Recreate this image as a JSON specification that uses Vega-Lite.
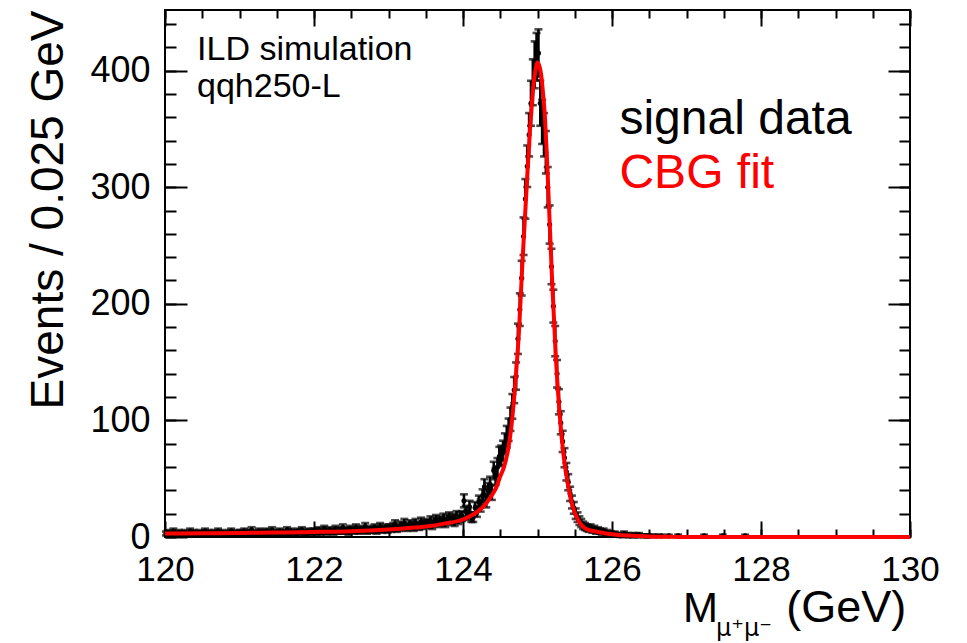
{
"$schema":"https://vega.github.io/schema/vega-lite/v6.json",
"width":745,"height":527,"autosize":"none",
"padding":{"left":165,"top":10,"right":57,"bottom":106},
"background":"white",
"config":{"view":{"stroke":"black","strokeWidth":2},
"axis":{"domain":false,"grid":false,"tickColor":"black","tickWidth":2,"labelColor":"black","labelFont":"Liberation Sans","labelFontSize":35,"labelFlush":false,"titleFont":"Liberation Sans","titleFontWeight":"normal","titleColor":"black","titleFontSize":46}},
"datasets":{
"one":[{}],
"hist":[
{"m":120.0125,"n":3,"e":1.7},{"m":120.0375,"n":4,"e":2},{"m":120.0625,"n":2,"e":1.4},{"m":120.0875,"n":3,"e":1.7},{"m":120.1125,"n":5,"e":2.2},{"m":120.1375,"n":3,"e":1.7},{"m":120.1625,"n":2,"e":1.4},{"m":120.1875,"n":4,"e":2},{"m":120.2125,"n":3,"e":1.7},{"m":120.2375,"n":3,"e":1.7},
{"m":120.2625,"n":4,"e":2},{"m":120.2875,"n":2,"e":1.4},{"m":120.3125,"n":3,"e":1.7},{"m":120.3375,"n":5,"e":2.2},{"m":120.3625,"n":3,"e":1.7},{"m":120.3875,"n":4,"e":2},{"m":120.4125,"n":2,"e":1.4},{"m":120.4375,"n":3,"e":1.7},{"m":120.4625,"n":4,"e":2},{"m":120.4875,"n":3,"e":1.7},
{"m":120.5125,"n":3,"e":1.7},{"m":120.5375,"n":5,"e":2.2},{"m":120.5625,"n":2,"e":1.4},{"m":120.5875,"n":4,"e":2},{"m":120.6125,"n":3,"e":1.7},{"m":120.6375,"n":3,"e":1.7},{"m":120.6625,"n":4,"e":2},{"m":120.6875,"n":2,"e":1.4},{"m":120.7125,"n":5,"e":2.2},{"m":120.7375,"n":3,"e":1.7},
{"m":120.7625,"n":4,"e":2},{"m":120.7875,"n":3,"e":1.7},{"m":120.8125,"n":3,"e":1.7},{"m":120.8375,"n":2,"e":1.4},{"m":120.8625,"n":4,"e":2},{"m":120.8875,"n":5,"e":2.2},{"m":120.9125,"n":3,"e":1.7},{"m":120.9375,"n":3,"e":1.7},{"m":120.9625,"n":4,"e":2},{"m":120.9875,"n":2,"e":1.4},
{"m":121.0125,"n":4,"e":2},{"m":121.0375,"n":3,"e":1.7},{"m":121.0625,"n":5,"e":2.2},{"m":121.0875,"n":4,"e":2},{"m":121.1125,"n":3,"e":1.7},{"m":121.1375,"n":4,"e":2},{"m":121.1625,"n":6,"e":2.4},{"m":121.1875,"n":3,"e":1.7},{"m":121.2125,"n":4,"e":2},{"m":121.2375,"n":2,"e":1.4},
{"m":121.2625,"n":5,"e":2.2},{"m":121.2875,"n":4,"e":2},{"m":121.3125,"n":3,"e":1.7},{"m":121.3375,"n":4,"e":2},{"m":121.3625,"n":5,"e":2.2},{"m":121.3875,"n":3,"e":1.7},{"m":121.4125,"n":4,"e":2},{"m":121.4375,"n":6,"e":2.4},{"m":121.4625,"n":4,"e":2},{"m":121.4875,"n":3,"e":1.7},
{"m":121.5125,"n":4,"e":2},{"m":121.5375,"n":5,"e":2.2},{"m":121.5625,"n":3,"e":1.7},{"m":121.5875,"n":4,"e":2},{"m":121.6125,"n":4,"e":2},{"m":121.6375,"n":6,"e":2.4},{"m":121.6625,"n":3,"e":1.7},{"m":121.6875,"n":5,"e":2.2},{"m":121.7125,"n":4,"e":2},{"m":121.7375,"n":4,"e":2},
{"m":121.7625,"n":3,"e":1.7},{"m":121.7875,"n":5,"e":2.2},{"m":121.8125,"n":4,"e":2},{"m":121.8375,"n":6,"e":2.4},{"m":121.8625,"n":4,"e":2},{"m":121.8875,"n":3,"e":1.7},{"m":121.9125,"n":5,"e":2.2},{"m":121.9375,"n":4,"e":2},{"m":121.9625,"n":4,"e":2},{"m":121.9875,"n":5,"e":2.2},
{"m":122.0125,"n":5,"e":2.2},{"m":122.0375,"n":4,"e":2},{"m":122.0625,"n":6,"e":2.4},{"m":122.0875,"n":4,"e":2},{"m":122.1125,"n":5,"e":2.2},{"m":122.1375,"n":7,"e":2.6},{"m":122.1625,"n":4,"e":2},{"m":122.1875,"n":5,"e":2.2},{"m":122.2125,"n":6,"e":2.4},{"m":122.2375,"n":5,"e":2.2},
{"m":122.2625,"n":4,"e":2},{"m":122.2875,"n":7,"e":2.6},{"m":122.3125,"n":5,"e":2.2},{"m":122.3375,"n":6,"e":2.4},{"m":122.3625,"n":5,"e":2.2},{"m":122.3875,"n":8,"e":2.8},{"m":122.4125,"n":5,"e":2.2},{"m":122.4375,"n":6,"e":2.4},{"m":122.4625,"n":4,"e":2},{"m":122.4875,"n":7,"e":2.6},
{"m":122.5125,"n":6,"e":2.4},{"m":122.5375,"n":5,"e":2.2},{"m":122.5625,"n":8,"e":2.8},{"m":122.5875,"n":6,"e":2.4},{"m":122.6125,"n":5,"e":2.2},{"m":122.6375,"n":7,"e":2.6},{"m":122.6625,"n":6,"e":2.4},{"m":122.6875,"n":9,"e":3},{"m":122.7125,"n":5,"e":2.2},{"m":122.7375,"n":6,"e":2.4},
{"m":122.7625,"n":7,"e":2.6},{"m":122.7875,"n":6,"e":2.4},{"m":122.8125,"n":8,"e":2.8},{"m":122.8375,"n":5,"e":2.2},{"m":122.8625,"n":7,"e":2.6},{"m":122.8875,"n":9,"e":3},{"m":122.9125,"n":6,"e":2.4},{"m":122.9375,"n":7,"e":2.6},{"m":122.9625,"n":8,"e":2.8},{"m":122.9875,"n":6,"e":2.4},
{"m":123.0125,"n":8,"e":2.8},{"m":123.0375,"n":7,"e":2.6},{"m":123.0625,"n":9,"e":3},{"m":123.0875,"n":11,"e":3.3},{"m":123.1125,"n":7,"e":2.6},{"m":123.1375,"n":8,"e":2.8},{"m":123.1625,"n":10,"e":3.2},{"m":123.1875,"n":9,"e":3},{"m":123.2125,"n":12,"e":3.5},{"m":123.2375,"n":8,"e":2.8},
{"m":123.2625,"n":9,"e":3},{"m":123.2875,"n":11,"e":3.3},{"m":123.3125,"n":10,"e":3.2},{"m":123.3375,"n":8,"e":2.8},{"m":123.3625,"n":12,"e":3.5},{"m":123.3875,"n":10,"e":3.2},{"m":123.4125,"n":9,"e":3},{"m":123.4375,"n":13,"e":3.6},{"m":123.4625,"n":10,"e":3.2},{"m":123.4875,"n":11,"e":3.3},
{"m":123.5125,"n":12,"e":3.5},{"m":123.5375,"n":11,"e":3.3},{"m":123.5625,"n":14,"e":3.7},{"m":123.5875,"n":10,"e":3.2},{"m":123.6125,"n":13,"e":3.6},{"m":123.6375,"n":15,"e":3.9},{"m":123.6625,"n":12,"e":3.5},{"m":123.6875,"n":14,"e":3.7},{"m":123.7125,"n":13,"e":3.6},{"m":123.7375,"n":16,"e":4},
{"m":123.7625,"n":12,"e":3.5},{"m":123.7875,"n":15,"e":3.9},{"m":123.8125,"n":17,"e":4.1},{"m":123.8375,"n":14,"e":3.7},{"m":123.8625,"n":16,"e":4},{"m":123.8875,"n":13,"e":3.6},{"m":123.9125,"n":18,"e":4.2},{"m":123.9375,"n":15,"e":3.9},{"m":123.9625,"n":17,"e":4.1},{"m":123.9875,"n":18,"e":4.2},
{"m":124.0125,"n":31,"e":5.6},{"m":124.0375,"n":22,"e":4.7},{"m":124.0625,"n":19,"e":4.4},{"m":124.0875,"n":26,"e":5.1},{"m":124.1125,"n":17,"e":4.1},{"m":124.1375,"n":17,"e":4.1},{"m":124.1625,"n":25,"e":5},{"m":124.1875,"n":22,"e":4.7},{"m":124.2125,"n":30,"e":5.5},{"m":124.2375,"n":27,"e":5.2},
{"m":124.2625,"n":35,"e":5.9},{"m":124.2875,"n":43,"e":6.6},{"m":124.3125,"n":31,"e":5.6},{"m":124.3375,"n":40,"e":6.3},{"m":124.3625,"n":45,"e":6.7},{"m":124.3875,"n":38,"e":6.2},{"m":124.4125,"n":57,"e":7.5},{"m":124.4375,"n":52,"e":7.2},{"m":124.4625,"n":60,"e":7.7},{"m":124.4875,"n":69,"e":8.3},
{"m":124.5125,"n":70,"e":8.4},{"m":124.5375,"n":74,"e":8.6},{"m":124.5625,"n":80,"e":8.9},{"m":124.5875,"n":86,"e":9.3},{"m":124.6125,"n":92,"e":9.6},{"m":124.6375,"n":101,"e":10},{"m":124.6625,"n":112,"e":10.6},{"m":124.6875,"n":126,"e":11.2},{"m":124.7125,"n":138,"e":11.7},{"m":124.7375,"n":170,"e":13},
{"m":124.7625,"n":195,"e":14},{"m":124.7875,"n":222,"e":14.9},{"m":124.8125,"n":258,"e":16.1},{"m":124.8375,"n":290,"e":17},{"m":124.8625,"n":318,"e":17.8},{"m":124.8875,"n":345,"e":18.6},{"m":124.9125,"n":372,"e":19.3},{"m":124.9375,"n":390,"e":19.7},{"m":124.9625,"n":405,"e":20.1},{"m":124.9875,"n":412,"e":20.3},
{"m":125.0125,"n":415,"e":20.4},{"m":125.0375,"n":372,"e":19.3},{"m":125.0625,"n":356,"e":18.9},{"m":125.0875,"n":345,"e":18.6},{"m":125.1125,"n":330,"e":18.2},{"m":125.1375,"n":300,"e":17.3},{"m":125.1625,"n":268,"e":16.4},{"m":125.1875,"n":232,"e":15.2},{"m":125.2125,"n":198,"e":14.1},{"m":125.2375,"n":168,"e":13},
{"m":125.2625,"n":140,"e":11.8},{"m":125.2875,"n":116,"e":10.8},{"m":125.3125,"n":98,"e":9.9},{"m":125.3375,"n":82,"e":9.1},{"m":125.3625,"n":68,"e":8.2},{"m":125.3875,"n":56,"e":7.5},{"m":125.4125,"n":47,"e":6.9},{"m":125.4375,"n":37,"e":6.1},{"m":125.4625,"n":30,"e":5.5},{"m":125.4875,"n":25,"e":5},
{"m":125.5125,"n":20,"e":4.5},{"m":125.5375,"n":17,"e":4.1},{"m":125.5625,"n":14,"e":3.7},{"m":125.5875,"n":12,"e":3.5},{"m":125.6125,"n":10,"e":3.2},{"m":125.6375,"n":9,"e":3},{"m":125.6625,"n":8,"e":2.8},{"m":125.6875,"n":7,"e":2.6},{"m":125.7125,"n":8,"e":2.8},{"m":125.7375,"n":6,"e":2.4},
{"m":125.7625,"n":7,"e":2.6},{"m":125.7875,"n":5,"e":2.2},{"m":125.8125,"n":6,"e":2.4},{"m":125.8375,"n":5,"e":2.2},{"m":125.8625,"n":4,"e":2},{"m":125.8875,"n":5,"e":2.2},{"m":125.9125,"n":3,"e":1.7},{"m":125.9375,"n":4,"e":2},{"m":125.9625,"n":3,"e":1.7},{"m":125.9875,"n":3,"e":1.7},
{"m":126.0125,"n":2,"e":1.4},{"m":126.0375,"n":3,"e":1.7},{"m":126.0625,"n":2,"e":1.4},{"m":126.0875,"n":2,"e":1.4},{"m":126.1125,"n":1,"e":1},{"m":126.1375,"n":2,"e":1.4},{"m":126.1625,"n":3,"e":1.7},{"m":126.1875,"n":1,"e":1},{"m":126.2125,"n":2,"e":1.4},{"m":126.2375,"n":1,"e":1},
{"m":126.2625,"n":1,"e":1},{"m":126.2875,"n":2,"e":1.4},{"m":126.3125,"n":1,"e":1},{"m":126.3375,"n":1,"e":1},{"m":126.3625,"n":2,"e":1.4},{"m":126.3875,"n":1,"e":1},{"m":126.4375,"n":1,"e":1},{"m":126.4625,"n":1,"e":1},{"m":126.4875,"n":1,"e":1},
{"m":126.5125,"n":1,"e":1},{"m":126.5875,"n":1,"e":1},{"m":126.6625,"n":1,"e":1},{"m":126.7625,"n":1,"e":1},{"m":126.8875,"n":1,"e":1},{"m":127.2375,"n":1,"e":1},{"m":127.4875,"n":1,"e":1},{"m":127.7875,"n":1,"e":1}
],
"fit":[
{"m":120,"f":3.0},{"m":120.5,"f":3.2},{"m":121,"f":3.5},{"m":121.5,"f":3.8},{"m":122,"f":4.3},{"m":122.5,"f":5.0},{"m":122.75,"f":5.6},{"m":123,"f":6.5},{"m":123.25,"f":7.6},{"m":123.5,"f":9.0},{"m":123.75,"f":11.5},{"m":124,"f":15},{"m":124.1,"f":18},{"m":124.2,"f":22},{"m":124.3,"f":28},{"m":124.4,"f":37},{"m":124.45,"f":43},{"m":124.5,"f":52},{"m":124.55,"f":60},{"m":124.6,"f":73},{"m":124.65,"f":95},{"m":124.7,"f":130},{"m":124.75,"f":175},{"m":124.8,"f":238},{"m":124.85,"f":295},{"m":124.9,"f":350},{"m":124.925,"f":372},{"m":124.95,"f":390},{"m":124.975,"f":401},{"m":125.0,"f":407},{"m":125.025,"f":404},{"m":125.05,"f":396},{"m":125.075,"f":380},{"m":125.1,"f":360},{"m":125.125,"f":328},{"m":125.15,"f":290},{"m":125.175,"f":252},{"m":125.2,"f":215},{"m":125.25,"f":150},{"m":125.3,"f":103},{"m":125.35,"f":70},{"m":125.4,"f":48},{"m":125.45,"f":32},{"m":125.5,"f":21},{"m":125.55,"f":14},{"m":125.6,"f":9.5},{"m":125.65,"f":7},{"m":125.7,"f":5.8},{"m":125.8,"f":4.5},{"m":125.9,"f":3.2},{"m":126,"f":2.3},{"m":126.2,"f":1.2},{"m":126.4,"f":0.6},{"m":126.6,"f":0.3},{"m":126.8,"f":0.15},{"m":127,"f":0.08},{"m":127.5,"f":0.02},{"m":128,"f":0},{"m":130,"f":0}
]},
"layer":[
{"data":{"name":"hist"},
 "mark":{"type":"errorbar","ticks":{"size":8,"color":"black"},"thickness":2.6,"color":"black"},
 "encoding":{
  "x":{"field":"m","type":"quantitative","scale":{"domain":[120,130],"nice":false,"zero":false},
       "axis":{"orient":"bottom","values":[120,122,124,126,128,130],"tickSize":-16,"labelPadding":31,"title":null}},
  "y":{"field":"n","type":"quantitative","scale":{"domain":[0,452],"nice":false,"zero":false},
       "axis":{"orient":"left","values":[0,100,200,300,400],"tickSize":-22,"labelPadding":37,"labelFontSize":36,"title":"Events / 0.025 GeV","titleX":-103,"titleY":0,"titleAlign":"right","titleBaseline":"alphabetic","titleAngle":-90,"titleFontSize":46}},
  "yError":{"field":"e"}}},
{"data":{"name":"hist"},
 "mark":{"type":"point","filled":true,"size":26,"color":"black","opacity":1},
 "encoding":{
  "x":{"field":"m","type":"quantitative","scale":{"domain":[120,130],"nice":false,"zero":false},
       "axis":{"orient":"bottom","values":[120,120.5,121,121.5,122,122.5,123,123.5,124,124.5,125,125.5,126,126.5,127,127.5,128,128.5,129,129.5,130],"tickSize":-8,"labels":false,"title":null}},
  "y":{"field":"n","type":"quantitative","scale":{"domain":[0,452],"nice":false,"zero":false},
       "axis":{"orient":"left","values":[0,20,40,60,80,100,120,140,160,180,200,220,240,260,280,300,320,340,360,380,400,420,440],"tickSize":-11,"labels":false,"title":null}}}},
{"data":{"name":"fit"},
 "mark":{"type":"line","color":"#ff0000","strokeWidth":4,"interpolate":"monotone"},
 "encoding":{
  "x":{"field":"m","type":"quantitative","scale":{"domain":[120,130],"nice":false,"zero":false},
       "axis":{"orient":"top","values":[120,122,124,126,128,130],"tickSize":-16,"labels":false,"title":null}},
  "y":{"field":"f","type":"quantitative","scale":{"domain":[0,452],"nice":false,"zero":false},
       "axis":{"orient":"right","values":[0,100,200,300,400],"tickSize":-22,"labels":false,"title":null}}}},
{"data":{"name":"one"},
 "mark":{"type":"text","text":"ILD simulation","align":"left","baseline":"alphabetic","fontSize":34,"font":"Liberation Sans","color":"black"},
 "encoding":{
  "x":{"datum":120.43,"type":"quantitative","scale":{"domain":[120,130],"nice":false,"zero":false},
       "axis":{"orient":"top","values":[120,120.5,121,121.5,122,122.5,123,123.5,124,124.5,125,125.5,126,126.5,127,127.5,128,128.5,129,129.5,130],"tickSize":-8,"labels":false,"title":null}},
  "y":{"datum":409.4,"type":"quantitative","scale":{"domain":[0,452],"nice":false,"zero":false},
       "axis":{"orient":"right","values":[0,20,40,60,80,100,120,140,160,180,200,220,240,260,280,300,320,340,360,380,400,420,440],"tickSize":-11,"labels":false,"title":null}}}},
{"data":{"name":"one"},
 "mark":{"type":"text","text":"qqh250-L","align":"left","baseline":"alphabetic","fontSize":34,"font":"Liberation Sans","color":"black"},
 "encoding":{"x":{"datum":120.43,"type":"quantitative","scale":{"domain":[120,130],"nice":false,"zero":false},"axis":null},
  "y":{"datum":377.7,"type":"quantitative","scale":{"domain":[0,452],"nice":false,"zero":false},"axis":null}}},
{"data":{"name":"one"},
 "mark":{"type":"text","text":"signal data","align":"left","baseline":"alphabetic","fontSize":48,"font":"Liberation Sans","color":"black"},
 "encoding":{"x":{"datum":126.1,"type":"quantitative","scale":{"domain":[120,130],"nice":false,"zero":false},"axis":null},
  "y":{"datum":346,"type":"quantitative","scale":{"domain":[0,452],"nice":false,"zero":false},"axis":null}}},
{"data":{"name":"one"},
 "mark":{"type":"text","text":"CBG fit","align":"left","baseline":"alphabetic","fontSize":48,"font":"Liberation Sans","color":"#ff0000"},
 "encoding":{"x":{"datum":126.1,"type":"quantitative","scale":{"domain":[120,130],"nice":false,"zero":false},"axis":null},
  "y":{"datum":299.3,"type":"quantitative","scale":{"domain":[0,452],"nice":false,"zero":false},"axis":null}}},
{"data":{"name":"one"},
 "mark":{"type":"text","text":"M","align":"left","baseline":"alphabetic","fontSize":42,"font":"Liberation Sans","color":"black"},
 "encoding":{"x":{"datum":126.953,"type":"quantitative","scale":{"domain":[120,130],"nice":false,"zero":false},"axis":null},
  "y":{"datum":-72.7,"type":"quantitative","scale":{"domain":[0,452],"nice":false,"zero":false},"axis":null}}},
{"data":{"name":"one"},
 "mark":{"type":"text","text":"μ⁺μ⁻","align":"left","baseline":"alphabetic","fontSize":24,"font":"DejaVu Sans","color":"black"},
 "encoding":{"x":{"datum":127.396,"type":"quantitative","scale":{"domain":[120,130],"nice":false,"zero":false},"axis":null},
  "y":{"datum":-85,"type":"quantitative","scale":{"domain":[0,452],"nice":false,"zero":false},"axis":null}}},
{"data":{"name":"one"},
 "mark":{"type":"text","text":"(GeV)","align":"right","baseline":"alphabetic","fontSize":45,"font":"Liberation Sans","color":"black"},
 "encoding":{"x":{"datum":129.95,"type":"quantitative","scale":{"domain":[120,130],"nice":false,"zero":false},"axis":null},
  "y":{"datum":-72.7,"type":"quantitative","scale":{"domain":[0,452],"nice":false,"zero":false},"axis":null}}}
],
"resolve":{"axis":{"x":"independent","y":"independent"}}
}
